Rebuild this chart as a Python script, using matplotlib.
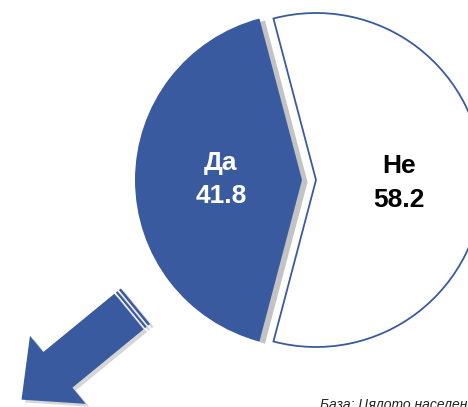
import numpy as np
import matplotlib
matplotlib.use("Agg")
import matplotlib.pyplot as plt
from matplotlib.patches import Polygon
import matplotlib.patheffects as pe

# ---- data ----
labels = ["Да", "Не"]
values = [41.8, 58.2]
base_note = "База: Цялото население"

BLUE = "#3A5AA0"
W, H = 468, 407

fig = plt.figure(figsize=(W / 100, H / 100), dpi=100)
ax = fig.add_axes([0, 0, 1, 1])

center = (309, H - 180)
radius = 167
start = 180 - values[0] / sum(values) * 360 / 2

wedges, _ = ax.pie(values, startangle=start, counterclock=True,
                   center=center, radius=radius,
                   explode=[7, 7],
                   colors=[BLUE, "white"],
                   wedgeprops=dict(linewidth=0))
wedges[0].set_path_effects([pe.withSimplePatchShadow(offset=(4, -1.5),
                                                     shadow_rgbFace="#888888",
                                                     alpha=0.5)])
wedges[0].set_zorder(2)
wedges[1].set_edgecolor(BLUE)
wedges[1].set_linewidth(1.3)
wedges[1].set_zorder(3)

# labels inside the slices
fnt = dict(family=["Liberation Sans", "DejaVu Sans"],
           fontweight="bold", fontsize=19, ha="center", va="baseline", zorder=5)
ax.text(220, H - 170, labels[0], color="white", **fnt)
ax.text(221, H - 203, f"{values[0]:.1f}", color="white", **fnt)
ax.text(399, H - 173, labels[1], color="black", **fnt)
ax.text(399, H - 207, f"{values[1]:.1f}", color="black", **fnt)

# ---- decorative arrow ----
T = np.array([129.0, 311.5])
u = np.array([-0.773, 0.634]); u /= np.linalg.norm(u)
n = np.array([0.634, 0.773]); n /= np.linalg.norm(n)
hw, sl, hhw, hl = 23, 92, 44, 47
pts = [T - hw * n, T + sl * u - hw * n, T + sl * u - hhw * n,
       T + (sl + hl) * u, T + sl * u + hhw * n, T + sl * u + hw * n,
       T + hw * n]
def flip(p):
    return [(x, H - y) for x, y in p]
shadow = [pe.withSimplePatchShadow(offset=(2.5, -2), shadow_rgbFace="#999999", alpha=0.4)]
arrow = Polygon(flip(pts), closed=True, facecolor=BLUE, edgecolor="none", zorder=4)
arrow.set_path_effects(shadow)
ax.add_patch(arrow)
for a, b in [(1.8, 4.0), (5.8, 8.3)]:
    sp = [T - a * u - hw * n, T - b * u - hw * n, T - b * u + hw * n, T - a * u + hw * n]
    s = Polygon(flip(sp), closed=True, facecolor=BLUE, edgecolor="none", zorder=4)
    s.set_path_effects(shadow)
    ax.add_patch(s)

ax.text(320, H - 398, base_note, fontsize=10, style="italic",
        family=["Liberation Sans", "DejaVu Sans"], ha="left", va="top", color="#222222")

ax.set_xlim(0, W)
ax.set_ylim(0, H)
ax.set_aspect("equal")
ax.axis("off")
fig.savefig("out.png", dpi=100)
